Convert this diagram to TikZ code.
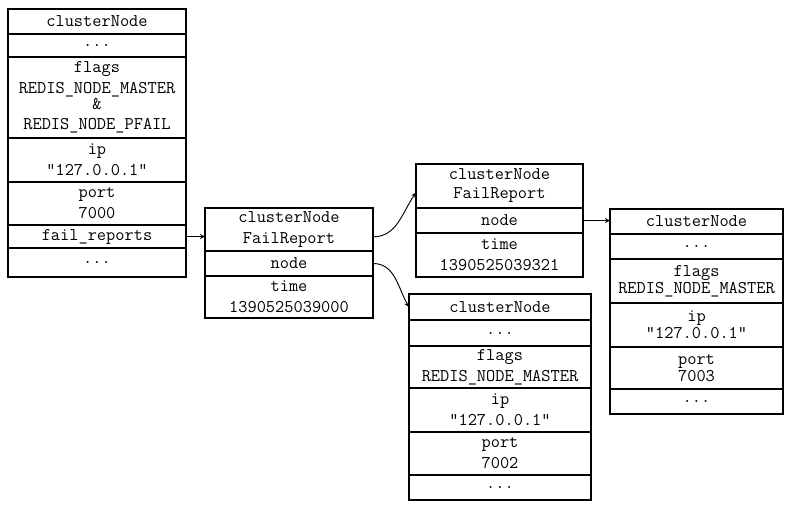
\documentclass[tikz,border=0pt]{standalone}
\usepackage{fontspec}
\usetikzlibrary{positioning}

\begin{document}
\begin{tikzpicture}[
		x=0.75pt, y=-0.75pt,
		>=stealth,
		field/.style={
			draw,
			line width=0.8pt,
			inner sep=0pt,
			outer sep=0pt,
			align=center,
			font=\ttfamily\fontsize{13.4}{15.75}\selectfont,
		},
		rowh/.style={
			minimum height=#1*0.75pt,
		},
		link/.style={
			->,
			line width=0.7pt,
		},
	]
	\useasboundingbox (0,0) rectangle (790,508);

	% clusterNode 7000
	\begin{scope}[every node/.append style={field, minimum width=133.5pt}]
		\node [anchor=north west, rowh=25] (a1) at (8,9) {clusterNode};
		\node [below=0pt of a1, rowh=23] (a2) {...};
		\node [below=0pt of a2, rowh=81] (a3) {flags\\[-0.5pt]
			REDIS\_NODE\_MASTER\\[-3.75pt] \&\\[-0.5pt] REDIS\_NODE\_PFAIL};
		\node [below=0pt of a3, rowh=44] (a4) {ip\\"127.0.0.1"};
		\node [below=0pt of a4, rowh=43] (a5) {port\\7000};
		\node [below=0pt of a5, rowh=23] (a6) {fail\_reports};
		\node [below=0pt of a6, rowh=29] (a7) {...};
	\end{scope}

	% clusterNodeFailReport 1
	\begin{scope}[every node/.append style={field, minimum width=126pt}]
		\node [anchor=north west, rowh=43] (b1) at (205,208) {clusterNode\\FailReport};
		\node [below=0pt of b1, rowh=25] (b2) {node};
		\node [below=0pt of b2, rowh=42] (b3) {time\\1390525039000};
	\end{scope}

	% clusterNodeFailReport 2
	\begin{scope}[every node/.append style={field, minimum width=125.25pt}]
		\node [anchor=north west, rowh=44] (c1) at (416,164) {clusterNode\\[-1.5pt]FailReport};
		\node [below=0pt of c1, rowh=25] (c2) {node};
		\node [below=0pt of c2, rowh=44] (c3) {time\\1390525039321};
	\end{scope}

	% clusterNode 7003
	\begin{scope}[every node/.append style={field, minimum width=129.75pt}]
		\node [anchor=north west, rowh=25] (d1) at (610,209) {clusterNode};
		\node [below=0pt of d1, rowh=25] (d2) {...};
		\node [below=0pt of d2, rowh=44] (d3) {flags\\[-3pt]REDIS\_NODE\_MASTER};
		\node [below=0pt of d3, rowh=44] (d4) {ip\\[-3pt]"127.0.0.1"};
		\node [below=0pt of d4, rowh=42] (d5) {port\\[-3pt]7003};
		\node [below=0pt of d5, rowh=25] (d6) {...};
	\end{scope}

	% clusterNode 7002
	\begin{scope}[every node/.append style={field, minimum width=136.5pt}]
		\node [anchor=north west, rowh=26] (e1) at (409,294) {clusterNode};
		\node [below=0pt of e1, rowh=26] (e2) {...};
		\node [below=0pt of e2, rowh=42] (e3) {flags\\REDIS\_NODE\_MASTER};
		\node [below=0pt of e3, rowh=44] (e4) {ip\\"127.0.0.1"};
		\node [below=0pt of e4, rowh=43] (e5) {port\\7002};
		\node [below=0pt of e5, rowh=25] (e6) {...};
	\end{scope}

	\draw [link] (a6.east) -- (a6.east -| b1.west);
	\draw [link] ([yshift=-5.5pt]b1.east) to[out=0, in=235] ([yshift=-5pt]c1.west);
	\draw [link] (b2.east) to[out=0, in=120] (e1.west);
	\draw [link] (c2.east) -- (c2.east -| d1.west);

\end{tikzpicture}
\end{document}
